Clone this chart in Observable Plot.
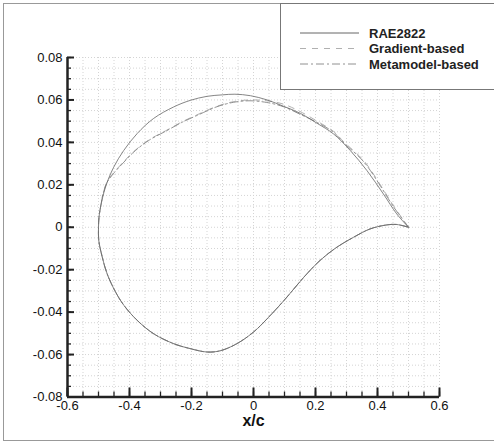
<!DOCTYPE html>
<html><head><meta charset="utf-8">
<script src="https://cdn.jsdelivr.net/npm/d3@7"></script>
<script src="https://cdn.jsdelivr.net/npm/@observablehq/plot@0.6"></script>
<style>
body{margin:0;background:#fff;}
#wrap{position:relative;width:494px;height:444px;overflow:hidden;font-family:"Liberation Sans",Arial,sans-serif;}
#frame{position:absolute;left:3px;top:3px;width:540px;height:436px;border:1.5px solid #999;}
#chart{position:absolute;left:0;top:0;}
#legend{position:absolute;left:280px;top:3px;width:260px;height:85px;border:1.5px solid #777;background:#fff;}
</style></head><body>
<div id="wrap"><div id="frame"></div><div id="chart"></div><div id="legend"></div></div>
<script>
// ---- data ----
const xTicks = [-0.6, -0.4, -0.2, 0, 0.2, 0.4, 0.6];
const yTicks = [-0.08, -0.06, -0.04, -0.02, 0, 0.02, 0.04, 0.06, 0.08];
const seriesNames = ["RAE2822", "Gradient-based", "Metamodel-based"];
const seriesColors = ["#666", "#b0b0b0", "#909090"];
const seriesDash = [null, "6,6", "8,3,2,3"];

// upper surfaces, trailing edge -> leading edge
const raeUpper = [[0.5,0],[0.462,0.0063],[0.419,0.0157],[0.366,0.0267],[0.312,0.0362],[0.258,0.0440],[0.205,0.0490],[0.151,0.0537],[0.097,0.0570],[0.044,0.0600],[-0.01,0.0620],[-0.06,0.0627],[-0.1,0.0624],[-0.15,0.0617],[-0.204,0.0598],[-0.2575,0.0567],[-0.322,0.0513],[-0.375,0.0442],[-0.4185,0.0362],[-0.451,0.0283],[-0.4775,0.0189],[-0.4935,0.0094],[-0.4985,0.0045],[-0.5,0]];
const gradientUpper = [[0.5,0],[0.45,0.0105],[0.41,0.0198],[0.356,0.0313],[0.291,0.0403],[0.258,0.0452],[0.205,0.0500],[0.151,0.0545],[0.097,0.0580],[0.043,0.0596],[-0.011,0.0600],[-0.064,0.0592],[-0.118,0.0570],[-0.182,0.0530],[-0.230,0.0497],[-0.279,0.0458],[-0.338,0.0411],[-0.386,0.0357],[-0.418,0.0310],[-0.451,0.0257],[-0.472,0.0215],[-0.485,0.0160],[-0.4935,0.0094],[-0.4985,0.0045],[-0.5,0]];
const metamodelUpper = [[0.5,0],[0.45,0.0100],[0.41,0.0193],[0.356,0.0308],[0.291,0.0398],[0.258,0.0448],[0.205,0.0494],[0.151,0.0532],[0.097,0.0568],[0.043,0.0588],[-0.011,0.0596],[-0.064,0.0589],[-0.118,0.0568],[-0.182,0.0527],[-0.230,0.0495],[-0.279,0.0456],[-0.338,0.0409],[-0.386,0.0355],[-0.418,0.0307],[-0.451,0.0254],[-0.472,0.0213],[-0.485,0.0158],[-0.4935,0.0094],[-0.4985,0.0045],[-0.5,0]];
// lower surface (shared), leading edge -> trailing edge
const raeLower = [[-0.5,0],[-0.499,-0.0063],[-0.488,-0.014],[-0.472,-0.022],[-0.445,-0.0305],[-0.418,-0.0368],[-0.375,-0.0439],[-0.322,-0.0502],[-0.257,-0.0549],[-0.204,-0.0572],[-0.15,-0.0588],[-0.107,-0.0582],[-0.054,-0.0549],[0.0,-0.0494],[0.054,-0.0416],[0.108,-0.0329],[0.162,-0.0236],[0.215,-0.0156],[0.269,-0.0094],[0.323,-0.0047],[0.376,-0.0008],[0.430,0.0011],[0.462,0.0013],[0.5,0]];

// ---- build rows ----
const toRows = (upper) => upper.concat(raeLower.slice(1)).map(([x, y]) => ({x, y}));
const raeRows = toRows(raeUpper);
const gradRows = toRows(gradientUpper);
const metaRows = toRows(metamodelUpper);

const xGrid = d3.range(-12, 13).map(i => +(i * 0.05).toFixed(2));
const yGrid = d3.range(-16, 17).map(i => +(i * 0.005).toFixed(3));
const fmt = d => d === 0 ? "0" : String(d);

const chart = Plot.plot({
  width: 494, height: 444,
  marginLeft: 67, marginRight: 55, marginTop: 57, marginBottom: 47.5,
  x: {domain: [-0.6, 0.6]},
  y: {domain: [-0.08, 0.08]},
  style: {fontFamily: "'Liberation Sans', Arial, sans-serif", fontSize: "13px", color: "#111", background: "transparent"},
  marks: [
    Plot.gridX(xGrid, {stroke: "#d4d4d4", strokeOpacity: 1, strokeDasharray: "1,2"}),
    Plot.gridY(yGrid, {stroke: "#d4d4d4", strokeOpacity: 1, strokeDasharray: "1,2"}),
    Plot.line(gradRows, {x: "x", y: "y", curve: "catmull-rom", stroke: seriesColors[1], strokeWidth: 1, strokeDasharray: seriesDash[1]}),
    Plot.line(metaRows, {x: "x", y: "y", curve: "catmull-rom", stroke: seriesColors[2], strokeWidth: 1, strokeDasharray: seriesDash[2]}),
    Plot.line(raeRows, {x: "x", y: "y", curve: "catmull-rom", stroke: seriesColors[0], strokeWidth: 0.8}),
    Plot.axisX(xGrid, {tickSize: -5, fill: "none", label: null, strokeWidth: 1.3, stroke: "#222"}),
    Plot.axisX(xTicks, {tickSize: -9, fill: "none", label: null, strokeWidth: 2, stroke: "#222"}),
    Plot.axisX(xTicks, {tickSize: 0, tickPadding: 4, tickFormat: fmt, label: null}),
    Plot.axisY(yGrid, {tickSize: -4, fill: "none", label: null, strokeWidth: 1.3, stroke: "#222"}),
    Plot.axisY(yTicks, {tickSize: -7, fill: "none", label: null, strokeWidth: 2, stroke: "#222"}),
    Plot.axisY(yTicks, {tickSize: 0, tickPadding: 5, tickFormat: fmt, label: null}),
    Plot.ruleX([-0.6], {strokeWidth: 2.5, stroke: "#222"}),
    Plot.ruleY([-0.08], {strokeWidth: 2.5, stroke: "#222"}),
    Plot.text(["x/c"], {text: d => d, frameAnchor: "bottom", dy: 18, lineAnchor: "top", fontWeight: "bold", fontSize: 16, fill: "#111"})
  ]
});
document.getElementById("chart").appendChild(chart);

// ---- legend ----
const lg = d3.select("#legend").append("svg").attr("width", 260).attr("height", 85);
seriesNames.forEach((name, i) => {
  const yy = 29 + i * 15.5;
  lg.append("line").attr("x1", 19).attr("x2", 78).attr("y1", yy).attr("y2", yy)
    .attr("stroke", seriesColors[i]).attr("stroke-width", 1)
    .attr("stroke-dasharray", seriesDash[i] || null);
  lg.append("text").attr("x", 88).attr("y", yy).attr("dy", "0.35em")
    .attr("font-family", "'Liberation Sans', Arial, sans-serif").attr("font-size", 13)
    .attr("font-weight", "bold").attr("fill", "#222").text(name);
});
</script>
</body></html>
